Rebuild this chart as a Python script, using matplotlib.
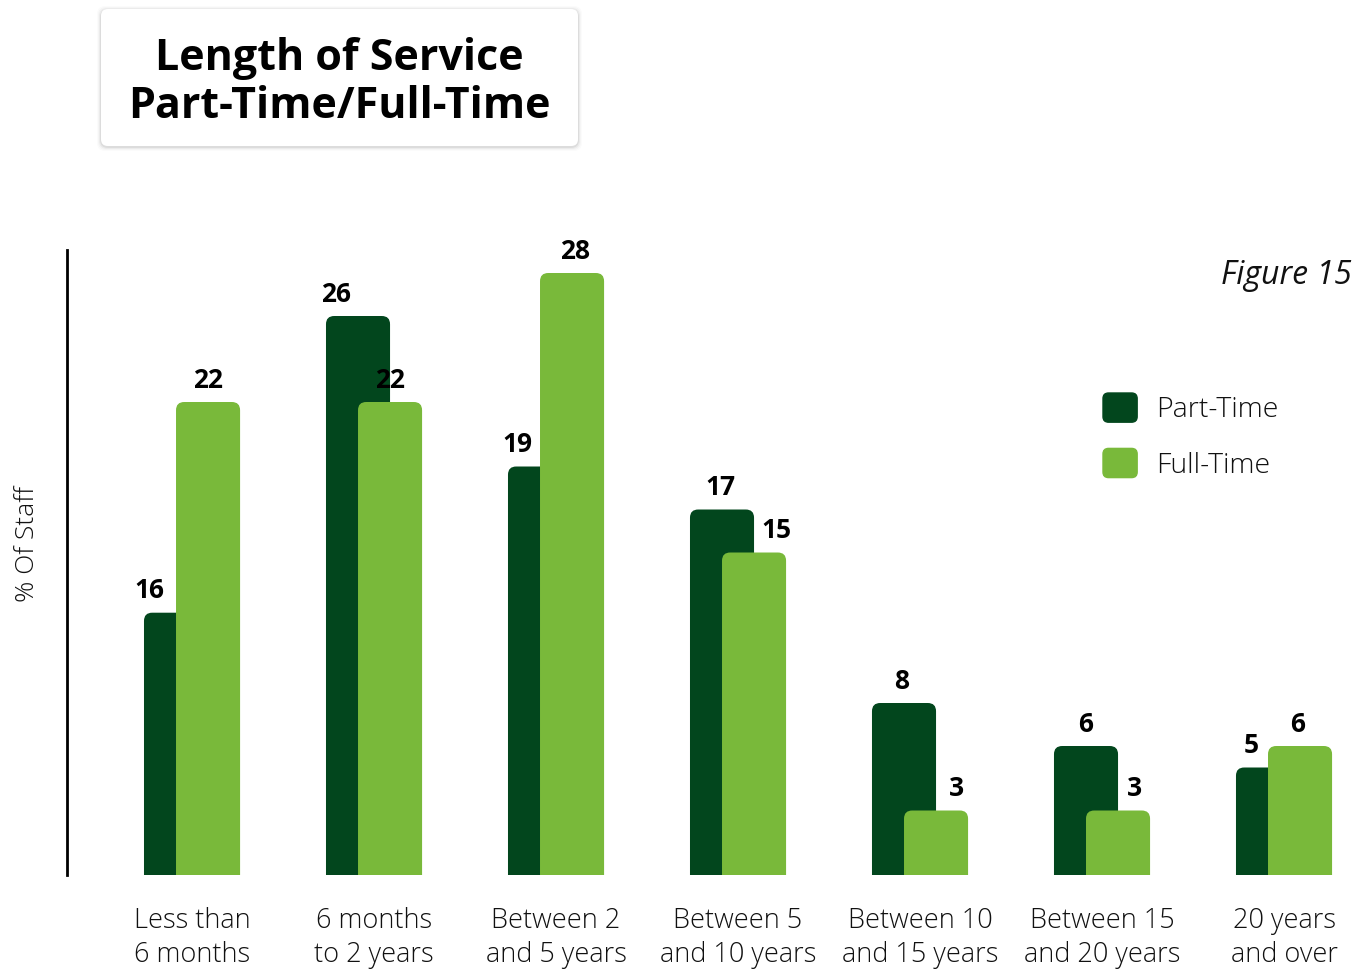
import matplotlib
matplotlib.use("Agg")
import matplotlib.pyplot as plt
from matplotlib.patches import FancyBboxPatch, Patch
from matplotlib.legend_handler import HandlerPatch
import numpy as np

plt.rcParams['font.family'] = ['Open Sans', 'DejaVu Sans']

# ----------------------------- data -----------------------------
categories = ["Less than\n6 months", "6 months\nto 2 years", "Between 2\nand 5 years",
              "Between 5\nand 10 years", "Between 10\nand 15 years",
              "Between 15\nand 20 years", "20 years\nand over"]
part_time_labels = [16, 26, 19, 17, 8, 6, 5]
full_time_labels = [22, 22, 28, 15, 3, 3, 6]
# bar heights as drawn in the original (first part-time bar is drawn lower than its label)
part_time_height = [12.2, 26, 19, 17, 8, 6, 5]
full_time_height = [22, 22, 28, 15, 3, 3, 6]

# label nudges (points) to keep numbers clear of the neighbouring bar
part_nudge = [-19, -16, -16, -1, -2, 0, -12]
full_nudge = [0, 0, 2, 16, 15, 12, -2]

dark = "#02461D"
light = "#79B93A"

W, H = 1353, 969
fig = plt.figure(figsize=(W / 100, H / 100), dpi=100)
ax = fig.add_axes([67 / W, 94 / H, 1 - 67 / W, 625 / H])

x = np.arange(len(categories))
bw = 0.352
ax.set_xlim(-0.687, 6.379)
ax.set_ylim(0, 29.07)

# x units vs y units per pixel, for rounded corners
aspect = (29.07 / 625) / (7.066 / (W - 67))


def rounded(bars, color):
    for r in bars:
        bx, by = r.get_x(), r.get_y()
        w, h = r.get_width(), r.get_height()
        r.remove()
        p = FancyBboxPatch((bx, by - 1), w, h + 1,
                           boxstyle="round,pad=0,rounding_size=0.045",
                           mutation_aspect=aspect, fc=color, ec="none")
        ax.add_patch(p)


b1 = ax.bar(x - bw / 4, part_time_height, bw, color=dark)
b2 = ax.bar(x + bw / 4, full_time_height, bw, color=light)
rounded(b1, dark)
rounded(b2, light)

for i in range(len(x)):
    ax.annotate(str(part_time_labels[i]), (x[i] - bw / 4, part_time_height[i]),
                xytext=(part_nudge[i], 6), textcoords="offset points",
                ha="center", va="bottom", fontsize=19, fontweight="bold", color="black")
    ax.annotate(str(full_time_labels[i]), (x[i] + bw / 4, full_time_height[i]),
                xytext=(full_nudge[i], 6), textcoords="offset points",
                ha="center", va="bottom", fontsize=19, fontweight="bold", color="black")

ax.set_xticks(x)
ax.set_xticklabels(categories, fontsize=19.5, color="#111111", linespacing=1.3,
                   fontweight="light")
ax.tick_params(axis="x", length=0, pad=23)
ax.set_yticks([])
for s in ["top", "right", "bottom"]:
    ax.spines[s].set_visible(False)
ax.spines["left"].set_linewidth(2)
ax.spines["left"].set_color("black")

ax.set_ylabel("% Of Staff", fontsize=19, color="#111111", fontweight="light")
ax.yaxis.set_label_coords(-0.021, 0.53)

# legend with rounded squares
def sq(legend, orig_handle, xdescent, ydescent, width, height, fontsize):
    return FancyBboxPatch((-xdescent, -ydescent), width, height,
                          boxstyle="round,pad=0,rounding_size=4")

handles = [Patch(color=dark, label="Part-Time"), Patch(color=light, label="Full-Time")]
fig.legend(handles=handles, loc="upper left", bbox_to_anchor=(1103 / W, 1 - 393 / H),
           frameon=False, handlelength=1.2, handleheight=1.2,
           prop={"size": 20.5, "weight": "light"},
           handletextpad=0.65, labelspacing=0.85, borderpad=0, borderaxespad=0,
           handler_map={Patch: HandlerPatch(patch_func=sq)}, labelcolor="#111111")

fig.text(1352 / W, 1 - 275 / H, "Figure 15", ha="right", va="center",
         fontsize=23, style="italic", color="#111111")

# title box with soft shadow
bx0, by0, bwid, bht = 101 / W, 1 - 146 / H, 477 / W, 137 / H
for k, a in enumerate([0.06, 0.04, 0.025, 0.015]):
    sh = FancyBboxPatch((bx0 - (k + 1) / W, by0 - (k + 2) / H), bwid + 2 * (k + 1) / W,
                        bht + (2 * k + 2) / H, boxstyle="round,pad=0,rounding_size=0.006",
                        mutation_aspect=W / H, transform=fig.transFigure,
                        fc="black", ec="none", alpha=a)
    fig.patches.append(sh)
box = FancyBboxPatch((bx0, by0), bwid, bht, boxstyle="round,pad=0,rounding_size=0.005",
                     mutation_aspect=W / H, transform=fig.transFigure, fc="white", ec="none")
fig.patches.append(box)
fig.text(339.5 / W, 1 - 58 / H, "Length of Service", ha="center", va="center",
         fontsize=31, fontweight="bold", color="black")
fig.text(339.5 / W, 1 - 106 / H, "Part-Time/Full-Time", ha="center", va="center",
         fontsize=31, fontweight="bold", color="black")

fig.savefig("out.png", dpi=100)
